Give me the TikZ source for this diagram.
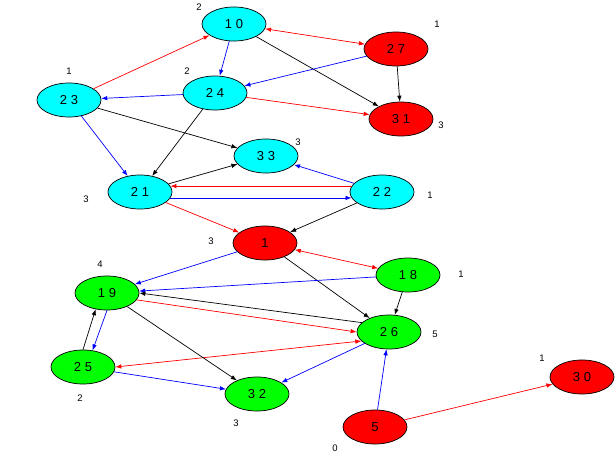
\documentclass[tikz,border=0pt]{standalone}
\usepackage{fontspec}
\setmainfont{Liberation Sans}
\usetikzlibrary{shapes.geometric,arrows.meta}
\definecolor{ncyan}{RGB}{0,255,255}
\definecolor{nred}{RGB}{255,0,0}
\definecolor{ngreen}{RGB}{0,255,0}
\definecolor{eblue}{RGB}{0,0,255}
\begin{document}
\begin{tikzpicture}[x=1pt,y=-1pt,
  vert/.style={ellipse,draw=black,line width=0.7pt,minimum width=64pt,minimum height=34pt,inner sep=0pt,font=\fontsize{13}{13}\selectfont},
  cy/.style={vert,fill=ncyan},
  rd/.style={vert,fill=nred},
  gr/.style={vert,fill=ngreen},
  deg/.style={font=\fontsize{9.5}{10}\selectfont,inner sep=0pt},
  edge/.style={line width=0.7pt,-{Latex[length=6pt,width=4.5pt]}},
  bedge/.style={line width=0.7pt,{Latex[length=6pt,width=4.5pt]}-{Latex[length=6pt,width=4.5pt]}},
  ebk/.style={edge,black},
  erd/.style={edge,nred},
  ebl/.style={edge,eblue}]
\useasboundingbox (0,0) rectangle (616,455);
% vertices
\node[cy] (n10) at (234,24) {1 0};
\node[rd] (n27) at (396,49) {2 7};
\node[cy] (n23) at (69,100) {2 3};
\node[cy] (n24) at (215,93) {2 4};
\node[rd] (n31) at (401,119) {3 1};
\node[cy] (n33) at (266,156) {3 3};
\node[cy] (n21) at (140,192) {2 1};
\node[cy] (n22) at (382,192) {2 2};
\node[rd] (n1) at (265,243) {1};
\node[gr] (n18) at (408,275) {1 8};
\node[gr] (n19) at (107,293) {1 9};
\node[gr] (n26) at (389,332) {2 6};
\node[gr] (n25) at (83,367) {2 5};
\node[gr] (n32) at (257,394) {3 2};
\node[rd] (n30) at (582,377) {3 0};
\node[rd] (n5) at (375,427) {5};
% degree labels
\node[deg] (d10) at (199,7) {2};
\node[deg] (d27) at (437,24) {1};
\node[deg] (d23) at (69,71) {1};
\node[deg] (d24) at (187,71) {2};
\node[deg] (d31) at (441,125) {3};
\node[deg] (d33) at (298,142) {3};
\node[deg] (d21) at (86,199) {3};
\node[deg] (d22) at (430,195) {1};
\node[deg] (d1) at (211,241) {3};
\node[deg] (d18) at (461,274) {1};
\node[deg] (d19) at (100,264) {4};
\node[deg] (d26) at (435,334) {5};
\node[deg] (d25) at (80,398) {2};
\node[deg] (d32) at (236,423) {3};
\node[deg] (d30) at (542,358) {1};
\node[deg] (d5) at (335,448) {0};
% edges
\begin{scope}[on background layer/.style={}]
\draw[bedge,nred] (n10) -- (n27);
\draw[ebl] (n10) -- (n24);
\draw[ebk] (n10) -- (n31);
\draw[ebl] (n27) -- (n24);
\draw[ebk] (n27) -- (n31);
\draw[erd] (n24) -- (n31);
\draw[ebl] (n24) -- (n23);
\draw[erd] (n23) -- (n10);
\draw[ebk] (n23) -- (n33);
\draw[ebl] (n23) -- (n21);
\draw[ebk] (n24) -- (n21);
\draw[ebk] (n21) -- (n33);
\draw[erd] (n22.169) -- (n21.11);
\draw[ebl] (n21.-11) -- (n22.-169);
\draw[ebl] (n22) -- (n33);
\draw[erd] (n21) -- (n1);
\draw[ebk] (n22) -- (n1);
\draw[bedge,nred] (n1) -- (n18);
\draw[ebl] (n1) -- (n19);
\draw[ebk] (n1) -- (n26);
\draw[ebl] (n18) -- (n19);
\draw[ebk] (n18) -- (n26);
\draw[ebk] (n26.161) -- (n19.0);
\draw[erd] (n19.-13) -- (n26.180);
\draw[bedge,nred] (n25.0) -- (n26.198);
\draw[ebl] (n19.270) -- (n25.60);
\draw[ebk] (n25.90) -- (n19.235);
\draw[ebk] (n19) -- (n32);
\draw[ebl] (n25) -- (n32);
\draw[ebl] (n26) -- (n32);
\draw[ebl] (n5) -- (n26);
\draw[erd] (n5) -- (n30);
\end{scope}
\end{tikzpicture}
\end{document}
